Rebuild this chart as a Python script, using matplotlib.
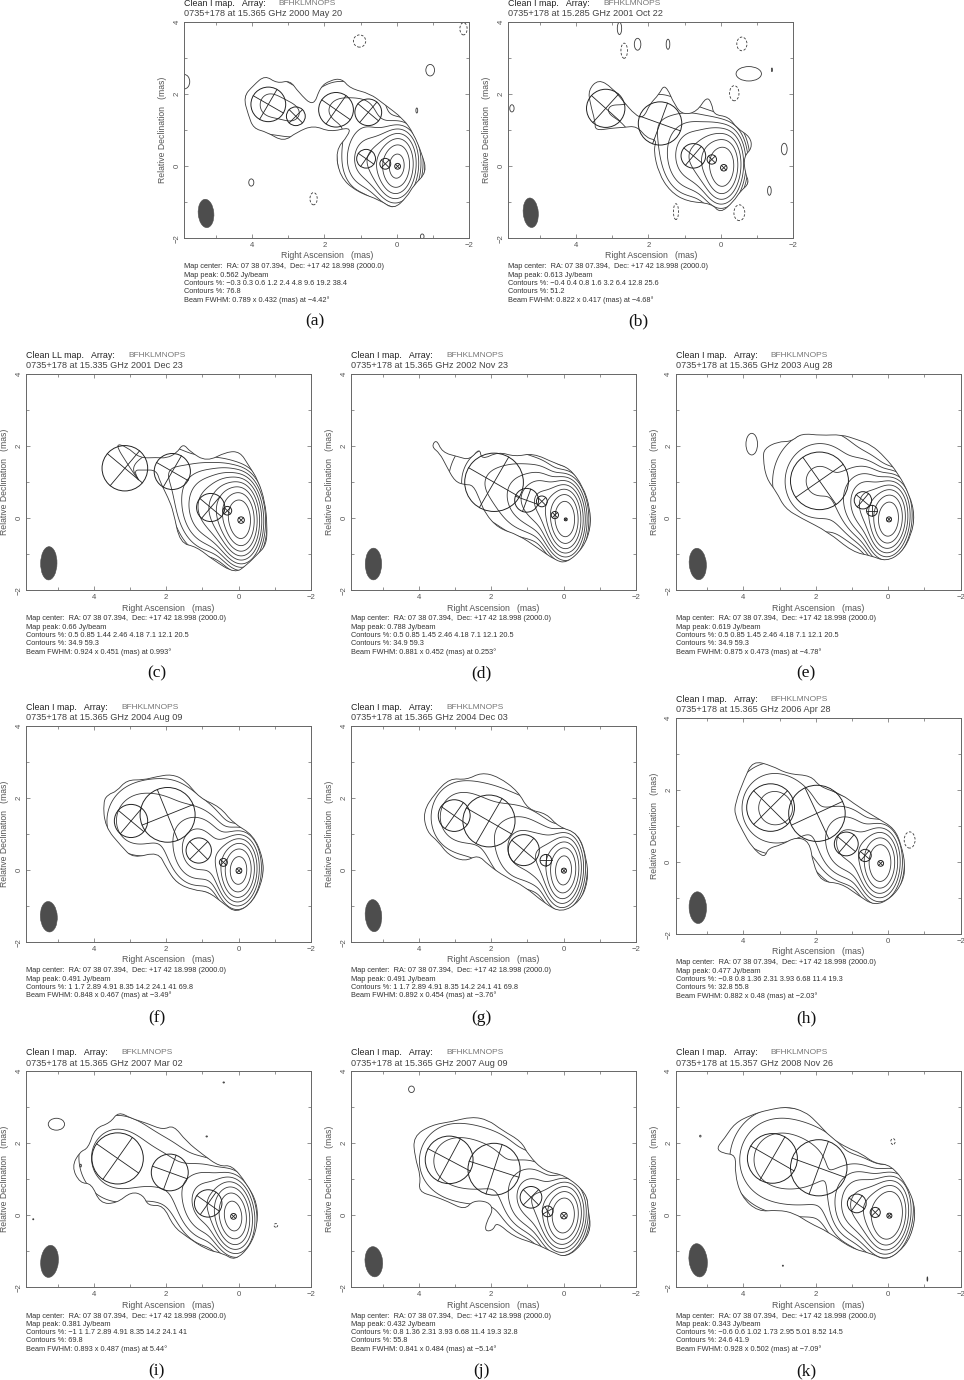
import numpy as np
import matplotlib
matplotlib.use('Agg')
import matplotlib.pyplot as plt
from matplotlib.patches import Ellipse, PathPatch
from matplotlib.path import Path

plt.rcParams['font.family'] = ['Liberation Sans', 'DejaVu Sans']

names = ['a', 'b', 'c', 'd', 'e', 'f', 'g', 'h', 'i', 'j', 'k']
dates = ['15.365 GHz 2000 May 20', '15.285 GHz 2001 Oct 22', '15.335 GHz 2001 Dec 23',
         '15.365 GHz 2002 Nov 23', '15.365 GHz 2003 Aug 28', '15.365 GHz 2004 Aug 09',
         '15.365 GHz 2004 Dec 03', '15.365 GHz 2006 Apr 28', '15.365 GHz 2007 Mar 02',
         '15.365 GHz 2007 Aug 09', '15.357 GHz 2008 Nov 26']
map_types = ['Clean I map.', 'Clean I map.', 'Clean LL map.', 'Clean I map.', 'Clean I map.',
             'Clean I map.', 'Clean I map.', 'Clean I map.', 'Clean I map.', 'Clean I map.',
             'Clean I map.']
arrays = ['BFHKLMNOPS'] * 8 + ['BFKLMNOPS', 'BFHKLMNOPS', 'BFHKLMNOPS']
peaks = ['0.562', '0.613', '0.66', '0.788', '0.619', '0.491', '0.491', '0.477', '0.381', '0.432', '0.343']
contour_lines = [
    ['\u22120.3 0.3 0.6 1.2 2.4 4.8 9.6 19.2 38.4', '76.8'],
    ['\u22120.4 0.4 0.8 1.6 3.2 6.4 12.8 25.6', '51.2'],
    ['0.5 0.85 1.44 2.46 4.18 7.1 12.1 20.5', '34.9 59.3'],
    ['0.5 0.85 1.45 2.46 4.18 7.1 12.1 20.5', '34.9 59.3'],
    ['0.5 0.85 1.45 2.46 4.18 7.1 12.1 20.5', '34.9 59.3'],
    ['1 1.7 2.89 4.91 8.35 14.2 24.1 41 69.8'],
    ['1 1.7 2.89 4.91 8.35 14.2 24.1 41 69.8'],
    ['\u22120.8 0.8 1.36 2.31 3.93 6.68 11.4 19.3', '32.8 55.8'],
    ['\u22121 1 1.7 2.89 4.91 8.35 14.2 24.1 41', '69.8'],
    ['0.8 1.36 2.31 3.93 6.68 11.4 19.3 32.8', '55.8'],
    ['\u22120.6 0.6 1.02 1.73 2.95 5.01 8.52 14.5', '24.6 41.9'],
]
levels = [
    [0.3, 0.6, 1.2, 2.4, 4.8, 9.6, 19.2, 38.4, 76.8],
    [0.4, 0.8, 1.6, 3.2, 6.4, 12.8, 25.6, 51.2],
    [0.5, 0.85, 1.44, 2.46, 4.18, 7.1, 12.1, 20.5, 34.9, 59.3],
    [0.5, 0.85, 1.45, 2.46, 4.18, 7.1, 12.1, 20.5, 34.9, 59.3],
    [0.5, 0.85, 1.45, 2.46, 4.18, 7.1, 12.1, 20.5, 34.9, 59.3],
    [1, 1.7, 2.89, 4.91, 8.35, 14.2, 24.1, 41, 69.8],
    [1, 1.7, 2.89, 4.91, 8.35, 14.2, 24.1, 41, 69.8],
    [0.8, 1.36, 2.31, 3.93, 6.68, 11.4, 19.3, 32.8, 55.8],
    [1, 1.7, 2.89, 4.91, 8.35, 14.2, 24.1, 41, 69.8],
    [0.8, 1.36, 2.31, 3.93, 6.68, 11.4, 19.3, 32.8, 55.8],
    [0.6, 1.02, 1.73, 2.95, 5.01, 8.52, 14.5, 24.6, 41.9],
]
# FWHM major, minor (mas), position angle (deg)
beam_maj = [0.789, 0.822, 0.924, 0.881, 0.875, 0.848, 0.892, 0.882, 0.893, 0.841, 0.928]
beam_min = [0.432, 0.417, 0.451, 0.452, 0.473, 0.467, 0.454, 0.48, 0.487, 0.484, 0.502]
beam_pa = [-4.42, -4.68, 0.993, 0.253, -4.78, -3.49, -3.76, -2.03, 5.44, -5.14, -7.09]
beam_x = [5.27, 5.25, 5.24, 5.25, 5.26, 5.24, 5.25, 5.26, 5.22, 5.24, 5.25]
beam_y = [-1.31, -1.29, -1.25, -1.27, -1.27, -1.29, -1.26, -1.26, -1.28, -1.29, -1.25]

# model components: RA, Dec, circle radius, cross angle, peak %
comp_a = [(3.55, 1.72, 0.48, 60, 1.3), (2.79, 1.39, 0.26, 45, 0.7), (1.68, 1.57, 0.48, 55, 1.2),
          (0.79, 1.50, 0.37, 50, 1.0), (0.85, 0.21, 0.26, 55, 7), (0.32, 0.07, 0.15, 45, 15),
          (-0.02, 0.0, 0.08, 45, 100)]
comp_b = [(3.18, 1.61, 0.53, 48, 0.7), (1.68, 1.19, 0.60, 70, 1.4), (0.76, 0.29, 0.34, 50, 12),
          (0.25, 0.19, 0.13, 45, 25), (-0.08, -0.04, 0.09, 45, 100)]
comp_c = [(3.14, 1.39, 0.63, 50, 0.7), (1.83, 1.30, 0.50, 60, 1.2), (0.77, 0.30, 0.39, 50, 9),
          (0.31, 0.21, 0.12, 45, 20), (-0.07, -0.05, 0.09, 45, 100)]
comp_d = [(1.92, 1.00, 0.81, 60, 2.5), (1.02, 0.50, 0.33, 70, 5), (0.60, 0.47, 0.15, 45, 8),
          (0.24, 0.09, 0.10, 45, 12), (-0.06, -0.03, 0.04, 45, 100)]
comp_e = [(1.90, 1.04, 0.80, 35, 2.7), (0.70, 0.50, 0.24, 50, 8), (0.45, 0.21, 0.15, 90, 8),
          (-0.02, -0.03, 0.07, 45, 100)]
comp_f = [(2.97, 1.37, 0.46, 50, 3), (1.96, 1.54, 0.76, 22, 3), (1.10, 0.55, 0.35, 45, 12),
          (0.42, 0.22, 0.11, 45, 8), (-0.01, -0.01, 0.08, 45, 100)]
comp_g = [(3.02, 1.52, 0.44, 55, 3), (2.06, 1.37, 0.72, 60, 3), (1.10, 0.56, 0.43, 50, 10),
          (0.49, 0.28, 0.16, 0, 10), (-0.01, -0.01, 0.07, 45, 100)]
comp_h = [(3.25, 1.52, 0.66, 45, 7), (1.97, 1.36, 0.78, 25, 2.5), (1.16, 0.51, 0.33, 50, 12),
          (0.64, 0.19, 0.17, 50, 8), (0.21, -0.03, 0.08, 45, 100)]
comp_i = [(3.34, 1.58, 0.71, 55, 4.5), (1.90, 1.19, 0.51, 70, 2.5), (0.84, 0.33, 0.38, 55, 12),
          (0.14, -0.03, 0.08, 45, 100)]
comp_j = [(3.16, 1.54, 0.66, 62, 2.5), (1.92, 1.28, 0.72, 72, 2.2), (0.90, 0.50, 0.30, 45, 9),
          (0.44, 0.11, 0.15, 30, 8), (-0.01, -0.01, 0.09, 45, 100)]
comp_k = [(3.20, 1.58, 0.69, 60, 3.4), (1.92, 1.32, 0.78, 70, 2.5), (0.87, 0.33, 0.26, 55, 14),
          (0.36, 0.08, 0.14, 45, 20), (-0.03, -0.01, 0.07, 45, 100)]

# lowest contour, traced
outer_a = [(3.64, 2.53), (3.31, 2.30), (2.95, 2.39), (2.72, 2.06), (2.30, 1.65), (2.12, 2.20), (1.84, 2.39),
           (1.52, 2.44), (1.29, 2.16), (0.74, 2.02), (0.37, 1.74), (-0.18, 1.32), (-0.46, 0.91), (-0.69, 0.35),
           (-0.83, -0.16), (-0.46, -0.53), (-0.28, -0.85), (0.09, -1.20), (0.46, -0.94), (1.10, -0.71),
           (1.57, -0.30), (1.70, 0.44), (1.34, 0.86), (1.29, 1.09), (1.84, 0.95), (2.30, 1.14), (2.76, 0.95),
           (3.13, 0.68), (3.59, 0.95), (3.96, 1.05), (4.10, 1.42), (4.24, 1.93), (3.96, 2.25)]
outer_b = [(3.38, 2.42), (3.01, 2.19), (2.69, 1.80), (2.37, 1.43), (2.14, 1.33), (1.95, 1.75), (1.72, 1.98),
           (1.54, 2.31), (1.26, 1.66), (1.03, 1.43), (0.66, 1.52), (0.39, 1.94), (0.25, 1.75), (0.20, 1.43),
           (-0.21, 1.38), (-0.44, 1.06), (-0.81, 0.82), (-0.86, 0.50), (-0.63, 0.27), (-0.67, -0.19),
           (-0.79, -0.47), (-0.53, -0.70), (-0.35, -0.98), (0.02, -1.31), (0.25, -1.03), (0.94, -0.98),
           (1.40, -0.70), (1.72, -0.19), (1.86, 0.45), (1.77, 0.73), (2.04, 0.78), (2.32, 1.12), (2.69, 1.08),
           (3.01, 1.06), (3.47, 0.99), (3.47, 1.24), (3.61, 1.75), (3.66, 2.12)]
outer_c = [(3.42, 2.08), (3.09, 1.99), (2.73, 1.67), (2.27, 1.69), (1.99, 1.67), (1.71, 1.81), (1.53, 2.08),
           (1.34, 1.85), (0.88, 1.57), (0.33, 1.85), (-0.04, 1.85), (-0.27, 1.48), (-0.54, 1.06), (-0.73, 0.46),
           (-0.79, -0.19), (-0.77, -0.74), (-0.50, -1.02), (-0.22, -1.30), (0.10, -1.53), (0.70, -1.16),
           (1.16, -0.79), (1.62, -0.69), (1.80, 0.19), (1.94, 0.56), (2.17, 1.02), (2.27, 1.34), (2.63, 1.34),
           (2.91, 1.34), (2.68, 0.93), (3.05, 1.48)]
outer_d = [(3.65, 1.99), (3.51, 2.20), (3.35, 1.83), (2.91, 1.71), (2.59, 1.62), (2.31, 1.96), (2.27, 1.62),
           (1.80, 1.85), (1.34, 1.71), (0.84, 1.81), (0.24, 1.53), (-0.17, 1.39), (-0.54, 0.88), (-0.73, 0.28),
           (-0.75, -0.28), (-0.54, -0.83), (-0.08, -1.25), (0.24, -1.16), (0.70, -0.83), (1.25, -0.46),
           (1.80, -0.28), (2.17, 0.14), (2.31, 0.51), (2.50, 0.93), (2.73, 0.93), (3.00, 1.02), (3.23, 1.44),
           (3.42, 1.81)]
outer_e = [(3.46, 1.67), (3.42, 1.94), (3.05, 2.13), (2.68, 2.13), (2.40, 2.36), (1.85, 2.30), (1.30, 2.33),
           (0.84, 2.18), (0.47, 2.04), (0.10, 1.71), (-0.27, 1.25), (-0.59, 0.65), (-0.73, 0.09), (-0.64, -0.46),
           (-0.36, -0.97), (0.06, -1.20), (0.47, -1.04), (0.98, -0.94), (1.67, -0.37), (2.40, 0.00), (2.86, 0.28),
           (3.09, 0.74), (3.37, 1.11)]
outer_f = [(3.74, 1.91), (3.60, 2.11), (3.37, 2.19), (3.09, 2.51), (2.63, 2.51), (2.27, 2.60), (1.85, 2.67),
           (1.48, 2.51), (1.07, 2.00), (0.52, 1.77), (0.15, 1.31), (-0.41, 0.98), (-0.68, 0.33), (-0.68, -0.22),
           (-0.41, -0.87), (0.06, -1.19), (0.42, -0.92), (0.84, -0.59), (1.25, -0.55), (1.71, -0.36), (1.99, 0.06),
           (2.22, 0.52), (2.91, 0.33), (3.23, 0.66), (3.69, 1.21)]
outer_g = [(3.88, 1.63), (3.55, 2.14), (3.14, 2.56), (2.68, 2.51), (2.27, 2.72), (1.80, 2.60), (1.25, 2.19),
           (0.98, 1.68), (0.47, 1.58), (0.15, 1.21), (-0.41, 1.03), (-0.64, 0.33), (-0.68, -0.31), (-0.45, -0.87),
           (0.06, -1.18), (0.52, -0.92), (1.07, -0.45), (1.62, -0.18), (2.08, 0.15), (2.36, 0.43), (2.73, 0.24),
           (3.19, 0.43), (3.46, 0.80), (3.78, 1.07)]
outer_h = [(4.23, 1.64), (3.97, 2.33), (3.74, 2.82), (3.23, 2.69), (2.77, 2.45), (2.13, 2.41), (1.90, 2.10),
           (1.30, 1.90), (0.84, 1.55), (0.29, 1.22), (-0.17, 0.94), (-0.36, 0.48), (-0.47, -0.07), (-0.41, -0.54),
           (-0.08, -1.00), (0.38, -1.21), (0.84, -0.91), (1.30, -0.58), (1.85, -0.54), (2.08, -0.03), (2.17, 0.57),
           (2.54, 0.71), (2.96, 0.48), (3.32, 0.39), (3.42, 0.11), (3.78, 0.44), (4.01, 0.85), (4.24, 1.31)]
outer_i = [(4.61, 1.35), (4.38, 1.77), (4.15, 1.86), (3.97, 2.42), (3.55, 2.56), (3.32, 2.88), (2.96, 2.69),
           (2.54, 2.56), (2.08, 2.37), (1.80, 2.51), (1.44, 2.05), (0.98, 1.68), (0.52, 1.35), (0.19, 1.40),
           (-0.22, 0.89), (-0.52, 0.33), (-0.52, -0.31), (-0.31, -0.87), (0.10, -1.26), (0.42, -1.06), (0.88, -0.96),
           (1.44, -0.59), (1.80, -0.31), (2.08, 0.29), (2.50, 0.26), (2.63, 0.56), (2.96, 0.66), (3.37, 0.33),
           (3.83, 0.33), (4.06, 0.89), (4.38, 0.89)]
outer_j = [(4.15, 2.19), (3.65, 2.51), (3.09, 2.60), (2.54, 2.74), (2.08, 2.65), (1.71, 2.37), (1.16, 2.05),
           (0.98, 1.68), (0.52, 1.21), (-0.04, 1.12), (-0.64, 0.61), (-0.68, 0.15), (-0.76, -0.36), (-0.54, -0.78),
           (-0.08, -1.18), (0.33, -1.01), (0.79, -0.78), (1.39, -0.59), (1.85, -0.18), (1.94, -0.41), (2.17, -0.45),
           (2.13, -0.18), (1.94, 0.15), (2.08, 0.38), (2.50, 0.41), (2.73, 0.15), (3.19, 0.38), (3.55, 0.52),
           (4.01, 0.66), (3.94, 1.07), (4.11, 1.63)]
outer_k = [(4.75, 1.86), (4.52, 2.14), (4.24, 2.56), (3.78, 2.79), (3.32, 2.93), (2.77, 3.02), (2.31, 2.88),
           (2.03, 2.65), (1.57, 2.14), (1.11, 1.86), (0.75, 1.72), (0.38, 1.44), (-0.08, 1.40), (-0.54, 0.80),
           (-0.77, 0.15), (-0.64, -0.59), (-0.27, -1.06), (0.10, -1.24), (0.47, -1.06), (1.02, -0.92), (1.67, -0.45),
           (2.17, -0.22), (2.59, 0.06), (3.05, 0.15), (3.60, 0.10), (4.06, 0.52), (4.24, 1.17), (4.20, 1.68),
           (4.57, 1.72)]

# small islands: RA, Dec, width, height
islands_pos = [
    [(5.87, 2.35, 0.3, 0.4), (-0.92, 2.67, 0.24, 0.32), (-0.55, 1.55, 0.05, 0.14), (4.02, -0.45, 0.14, 0.2),
     (-0.7, -1.95, 0.1, 0.14)],
    [(2.80, 3.83, 0.12, 0.34), (2.30, 3.39, 0.18, 0.33), (1.46, 3.39, 0.1, 0.28), (-0.77, 2.57, 0.7, 0.4),
     (-1.75, 0.48, 0.16, 0.32), (-1.34, -0.68, 0.1, 0.25), (5.77, 1.61, 0.12, 0.2), (-1.41, 2.68, 0.03, 0.1)],
    [], [],
    [(3.77, 2.06, 0.32, 0.6)],
    [], [], [],
    [(5.03, 2.53, 0.45, 0.33), (0.41, 3.69, 0.04, 0.03), (0.88, 2.19, 0.04, 0.03), (5.67, -0.11, 0.03, 0.03),
     (4.36, 1.38, 0.04, 0.08)],
    [(4.20, 3.5, 0.16, 0.18)],
    [(5.19, 2.2, 0.04, 0.05), (2.91, -1.4, 0.03, 0.03), (-1.08, -1.77, 0.02, 0.12)],
]
islands_neg = [
    [(1.03, 3.48, 0.34, 0.34), (-1.84, 3.82, 0.2, 0.34), (2.30, -0.9, 0.2, 0.34)],
    [(2.67, 3.21, 0.18, 0.42), (-0.58, 3.4, 0.28, 0.38), (-0.37, 2.03, 0.26, 0.42), (1.24, -1.26, 0.14, 0.44),
     (-0.51, -1.29, 0.3, 0.44)],
    [], [], [], [], [],
    [(-0.59, 0.62, 0.3, 0.45)],
    [(-1.03, -0.28, 0.1, 0.1)],
    [],
    [(-0.13, 2.05, 0.12, 0.16)],
]

comps = [comp_a, comp_b, comp_c, comp_d, comp_e, comp_f, comp_g, comp_h, comp_i, comp_j, comp_k]
outers = [outer_a, outer_b, outer_c, outer_d, outer_e, outer_f, outer_g, outer_h, outer_i, outer_j, outer_k]

# axes left/top in pixels
ax_left = [184.3, 508.3, 26, 351, 675.7, 26, 351, 675.7, 26, 351, 675.7]
ax_top = [22.3, 22.3, 374.3, 374.3, 374.3, 726.3, 726.3, 718.3, 1071.3, 1071.3, 1071.3]
letter_dy = [83.5, 83.5, 83.5, 83.5, 83.5, 76, 76, 84, 84, 84, 84]
array_dx = [94, 95, 102, 95, 95, 95, 95, 95, 95, 95, 95]

W, H = 964, 1380
AX_W, AX_H = 285, 216
LINE = '#3a3a3a'
TXT = '#555555'
WIDEN = 1.2  # the restored maps are a bit broader than the bare beam


def px_text(fig, x, y, s, **kw):
    kw.setdefault('va', 'center')
    return fig.text(x / W, 1 - y / H, s, **kw)


def closed_smooth(points):
    # quadratic spline through the midpoints of the traced outline
    pts = np.array(points)
    mids = (pts + np.roll(pts, -1, axis=0)) / 2
    verts = [mids[-1]]
    codes = [Path.MOVETO]
    for p, m in zip(pts, mids):
        verts += [p, m]
        codes += [Path.CURVE3, Path.CURVE3]
    return Path(verts, codes)


def model_field(X, Y, comp, maj, mnr, pa):
    th = np.radians(pa)
    u = X * np.sin(th) + Y * np.cos(th)
    v = X * np.cos(th) - Y * np.sin(th)
    Z = np.zeros_like(X)
    for cx, cy, r, _, flux in comp:
        du = (cx * np.sin(th) + cy * np.cos(th))
        dv = (cx * np.cos(th) - cy * np.sin(th))
        su2 = WIDEN ** 2 * (maj ** 2 + (2 * r) ** 2) / 2.355 ** 2
        sv2 = WIDEN ** 2 * (mnr ** 2 + (2 * r) ** 2) / 2.355 ** 2
        Z += flux * np.exp(-(u - du) ** 2 / (2 * su2) - (v - dv) ** 2 / (2 * sv2))
    return Z


fig = plt.figure(figsize=(W / 100, H / 100), dpi=100)
grid_x = np.arange(-2.2, 6.2, 0.02)
grid_y = np.arange(-2.2, 4.2, 0.02)
X, Y = np.meshgrid(grid_x, grid_y)

for i, name in enumerate(names):
    L, T = ax_left[i], ax_top[i]
    B = T + AX_H
    ax = fig.add_axes([L / W, 1 - B / H, AX_W / W, AX_H / H])
    ax.set_xlim(5.87, -2)
    ax.set_ylim(-2, 4)

    outline = PathPatch(closed_smooth(outers[i]), fill=False, ec=LINE, lw=0.6, transform=ax.transData)
    ax.add_patch(outline)
    Z = model_field(X, Y, comps[i], beam_maj[i], beam_min[i], beam_pa[i])
    cs = ax.contour(X, Y, Z, levels=levels[i][1:], colors=LINE, linewidths=0.6)
    cs.set_clip_path(outline)

    for x, y, w, h in islands_pos[i]:
        ax.add_patch(Ellipse((x, y), w, h, fill=False, ec=LINE, lw=0.6))
    for x, y, w, h in islands_neg[i]:
        ax.add_patch(Ellipse((x, y), w, h, fill=False, ec=LINE, lw=0.6, ls=(0, (3, 2))))

    for cx, cy, r, pa, _ in comps[i]:
        ax.add_patch(Ellipse((cx, cy), 2 * r, 2 * r, fill=False, ec='#222222', lw=0.7, zorder=4))
        for ang in (pa, pa + 90):
            dx, dy = r * np.sin(np.radians(ang)), r * np.cos(np.radians(ang))
            ax.plot([cx - dx, cx + dx], [cy - dy, cy + dy], color='#222222', lw=0.6, zorder=4)

    ax.add_patch(Ellipse((beam_x[i], beam_y[i]), beam_min[i], beam_maj[i], angle=beam_pa[i],
                         fc='#4d4d4d', ec='#4d4d4d', lw=0.4))

    ax.set_xticks([4, 2, 0, -2])
    ax.set_xticks([5, 3, 1, -1], minor=True)
    ax.set_yticks([-2, 0, 2, 4])
    ax.set_yticks([-1, 1, 3], minor=True)
    ax.set_xticklabels([])
    ax.set_yticklabels([])
    ax.tick_params(which='both', direction='in', top=True, right=True, color='#666666', width=0.5)
    ax.tick_params(which='major', length=3)
    ax.tick_params(which='minor', length=2)
    for sp in ax.spines.values():
        sp.set_color('#666666')
        sp.set_linewidth(0.7)

    px = AX_W / 7.87
    for v in [4, 2, 0, -2]:
        lab = str(v).replace('-', '\u2212')
        px_text(fig, L + (5.87 - v) * px, B + 7, lab, ha='center', fontsize=5.6, color=TXT)
    for v in [4, 2, 0, -2]:
        lab = str(v).replace('-', '\u2212')
        px_text(fig, L - 7, T + (4 - v) * 36, lab, ha='center', rotation=90, fontsize=5.6, color=TXT)
    px_text(fig, L + AX_W / 2, B + 17.7, 'Right Ascension   (mas)', ha='center', fontsize=6.3, color=TXT)
    px_text(fig, L - 21.5, T + AX_H / 2, 'Relative Declination   (mas)', ha='center', rotation=90,
            fontsize=6.2, color=TXT)

    px_text(fig, L, T - 19, map_types[i] + '   Array:', fontsize=6.4, color='#222222')
    px_text(fig, L + array_dx[i], T - 19, arrays[i], fontsize=6.0, color='#777777')
    px_text(fig, L, T - 8.3, '0735+178 at ' + dates[i], fontsize=6.6, color='#444444')

    foot = ['Map center:  RA: 07 38 07.394,  Dec: +17 42 18.998 (2000.0)',
            'Map peak: %s Jy/beam' % peaks[i]]
    foot += ['Contours %%: %s' % c for c in contour_lines[i]]
    foot += ['Beam FWHM: %s x %s (mas) at %s\u00b0' % (beam_maj[i], beam_min[i],
                                                      str(beam_pa[i]).replace('-', '\u2212'))]
    for k, s in enumerate(foot):
        px_text(fig, L, B + 28.7 + k * 8.2, s, fontsize=5.3, color='#333333')

    px_text(fig, L + AX_W / 2 - 12, B + letter_dy[i], '(%s)' % name, ha='center', fontsize=12.5,
            family='Liberation Serif', color='#111111')

fig.savefig('out.png', dpi=100)
